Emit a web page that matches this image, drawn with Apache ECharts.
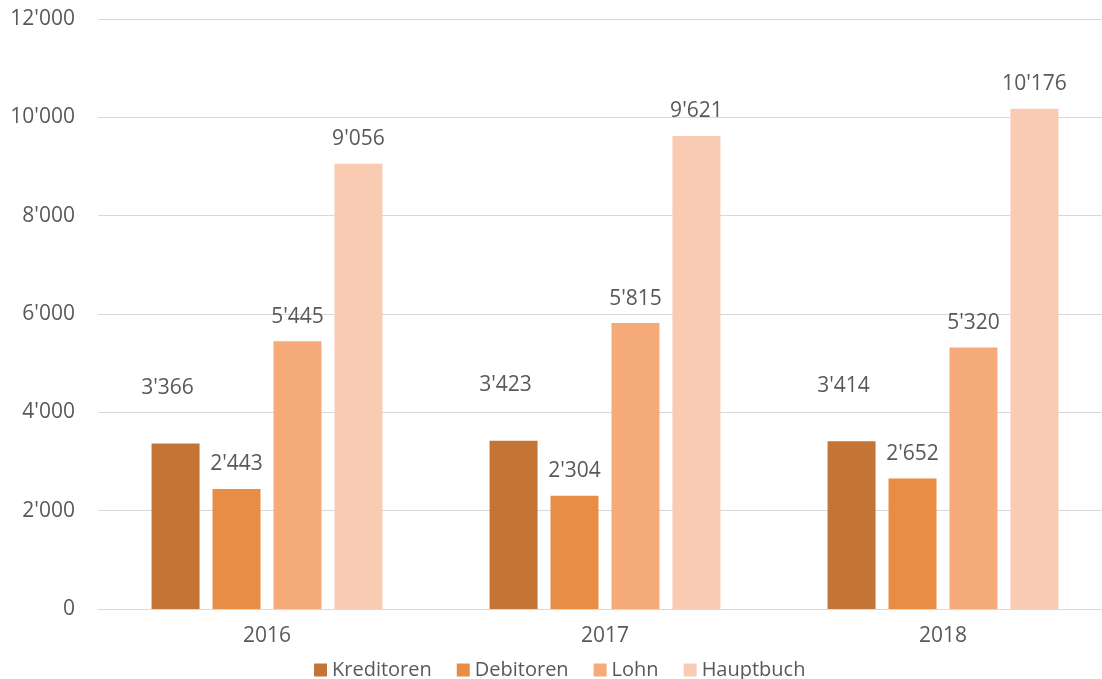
<!DOCTYPE html>
<html>
<head>
    <meta charset="utf-8">
    <title>ECharts</title>
    <script src="https://cdn.jsdelivr.net/npm/echarts@6/dist/echarts.min.js"></script>
    <style>
        * { margin: 0; padding: 0; }
        body { overflow: hidden; }
    </style>
</head>
<body>
    <!-- etwas breiter als das Fenster, damit die letzte Kategorie rechts übersteht -->
    <div id="main" style="width: 1120px; height: 679px;"></div>
    <script type="text/javascript">
        var years = ['2016', '2017', '2018'];
        var kreditoren = [3366, 3423, 3414];
        var debitoren = [2443, 2304, 2652];
        var lohn = [5445, 5815, 5320];
        var hauptbuch = [9056, 9621, 10176];

        function fmt(v) {
            return String(v).replace(/\B(?=(\d{3})+(?!\d))/g, "'");
        }

        var font = 'Open Sans';
        var textColor = '#595959';

        function bar(name, data, color, dist, offs) {
            return {
                name: name,
                type: 'bar',
                data: data,
                barWidth: 48,
                barGap: '27%',
                itemStyle: { color: color },
                label: {
                    show: true,
                    position: 'top',
                    distance: dist,
                    offset: offs,
                    color: textColor,
                    fontFamily: font,
                    fontSize: 21,
                    formatter: function (p) { return fmt(p.value); }
                }
            };
        }

        var myChart = echarts.init(document.getElementById('main'));
        var option = {
            backgroundColor: '#fff',
            animation: false,
            textStyle: { fontFamily: font },
            grid: { left: 98, width: 1014, top: 19, height: 590 },
            legend: {
                left: 309,
                top: 655,
                itemWidth: 13,
                itemHeight: 13,
                itemGap: 25,
                icon: 'rect',
                textStyle: { color: textColor, fontSize: 20, fontFamily: font }
            },
            xAxis: {
                type: 'category',
                data: years,
                axisLine: { lineStyle: { color: '#D9D9D9', width: 1 } },
                axisTick: { show: false },
                axisLabel: { color: textColor, fontSize: 21, margin: 17, fontFamily: font }
            },
            yAxis: {
                type: 'value',
                min: 0,
                max: 12000,
                interval: 2000,
                axisLine: { show: false },
                axisTick: { show: false },
                splitLine: { lineStyle: { color: '#D9D9D9', width: 1 } },
                axisLabel: {
                    color: textColor, fontSize: 21, margin: 23, fontFamily: font,
                    formatter: function (v) { return fmt(v); }
                }
            },
            series: [
                bar('Kreditoren', kreditoren, '#C47535', 45, [-8, 0]),
                bar('Debitoren', debitoren, '#E88D45', 14, [0, 0]),
                bar('Lohn', lohn, '#F5AB79', 14, [0, 0]),
                bar('Hauptbuch', hauptbuch, '#F8CBB2', 14, [0, 0])
            ]
        };
        myChart.setOption(option);
    </script>
</body>
</html>
